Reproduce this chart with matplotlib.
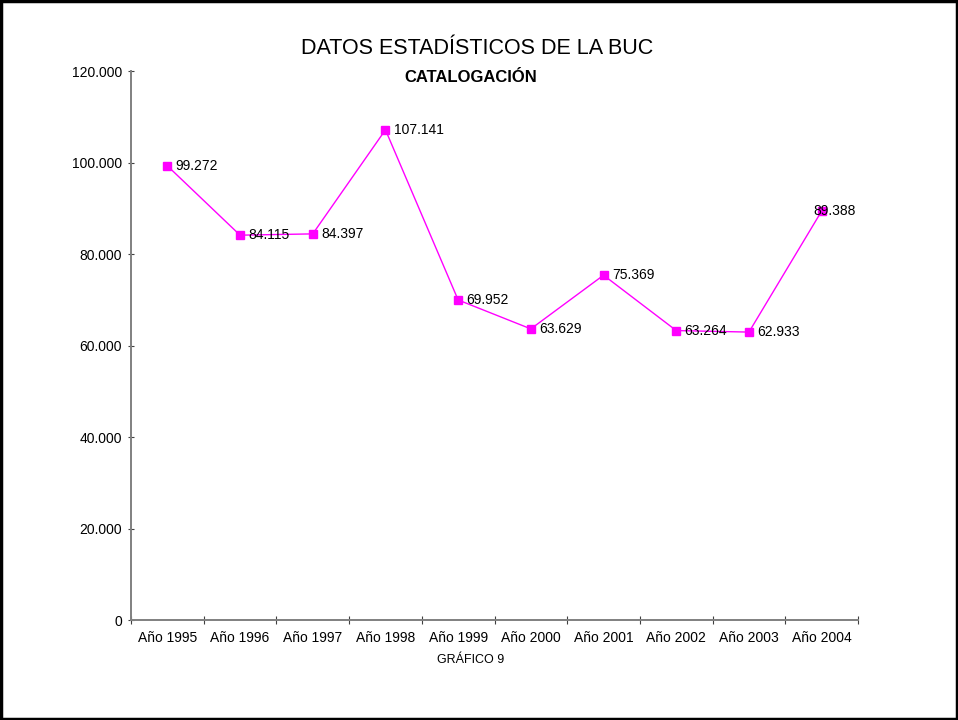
import matplotlib
matplotlib.use("Agg")
import matplotlib.pyplot as plt
from matplotlib.patches import Rectangle
from matplotlib.ticker import FuncFormatter, FixedLocator

plt.rcParams['font.family'] = ['Liberation Sans', 'DejaVu Sans']

categories = ["Año 1995", "Año 1996", "Año 1997", "Año 1998", "Año 1999",
              "Año 2000", "Año 2001", "Año 2002", "Año 2003", "Año 2004"]
values = [99272, 84115, 84397, 107141, 69952, 63629, 75369, 63264, 62933, 89388]
value_labels = ["99.272", "84.115", "84.397", "107.141", "69.952",
                "63.629", "75.369", "63.264", "62.933", "89.388"]

W, H = 958, 720
fig = plt.figure(figsize=(W / 100, H / 100), dpi=100)
ax = fig.add_axes([131 / W, 1 - 620 / H, (858 - 131) / W, (620 - 71) / H])

x = list(range(len(categories)))
ax.plot(x, values, color='#FF00FF', linewidth=1.0, marker='s', markersize=5.5,
        markerfacecolor='#FF00FF', markeredgecolor='#FF00FF', zorder=3)

for i, (v, lab) in enumerate(zip(values, value_labels)):
    if i == len(values) - 1:
        ax.annotate(lab, (i, v), xytext=(-6, 0), textcoords='offset points',
                    ha='left', va='center', fontsize=10, color='black', zorder=4)
    else:
        ax.annotate(lab, (i, v), xytext=(6, 0), textcoords='offset points',
                    ha='left', va='center', fontsize=10, color='black', zorder=4)

ax.set_xlim(-0.5, len(categories) - 0.5)
ax.set_ylim(0, 120000)
ax.set_yticks(range(0, 120001, 20000))


def fmt(v, pos):
    if v == 0:
        return "0"
    return f"{int(v):,}".replace(",", ".")


ax.yaxis.set_major_formatter(FuncFormatter(fmt))
ax.set_xticks(x)
ax.set_xticklabels(categories)
ax.xaxis.set_minor_locator(FixedLocator([i - 0.5 for i in range(len(categories) + 1)]))
ax.tick_params(axis='x', which='major', length=0, labelsize=10, pad=8)
ax.tick_params(axis='x', which='minor', direction='inout', length=5.5, width=0.8, color='#404040')
ax.tick_params(axis='y', which='major', direction='inout', length=5, width=0.8, color='#404040',
               labelsize=10, pad=4)

for s in ['top', 'right']:
    ax.spines[s].set_visible(False)
for s in ['left', 'bottom']:
    ax.spines[s].set_color('#808080')
    ax.spines[s].set_linewidth(1.4)

fig.text(477 / W, 1 - 49 / H, "DATOS ESTADÍSTICOS DE LA BUC", ha='center', va='center', fontsize=15.5)
fig.text(471 / W, 1 - 77 / H, "CATALOGACIÓN", ha='center', va='center', fontsize=12, fontweight='bold')
fig.text(471 / W, 1 - 660 / H, "GRÁFICO 9", ha='center', va='center', fontsize=9)

fig.patches.append(Rectangle((0.0015, 0.002), 0.997, 0.996, transform=fig.transFigure,
                             fill=False, edgecolor='black', linewidth=2.5))

fig.savefig("out.png", dpi=100)
